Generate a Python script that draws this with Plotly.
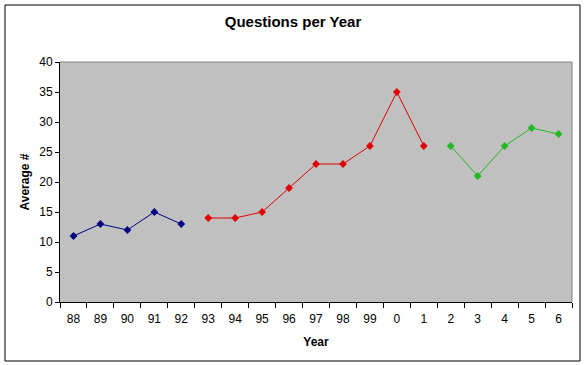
import plotly.graph_objects as go

years = ["88", "89", "90", "91", "92", "93", "94", "95", "96", "97",
         "98", "99", "0", "1", "2", "3", "4", "5", "6"]

s1_years = ["88", "89", "90", "91", "92"]
s1_vals = [11, 13, 12, 15, 13]

s2_years = ["93", "94", "95", "96", "97", "98", "99", "0", "1"]
s2_vals = [14, 14, 15, 19, 23, 23, 26, 35, 26]

s3_years = ["2", "3", "4", "5", "6"]
s3_vals = [26, 21, 26, 29, 28]

colors = ["#000080", "#E00000", "#22B822"]

fig = go.Figure()
for xs, ys, c in [(s1_years, s1_vals, colors[0]), (s2_years, s2_vals, colors[1]), (s3_years, s3_vals, colors[2])]:
    fig.add_trace(go.Scatter(
        x=xs, y=ys, mode="lines+markers",
        line=dict(color=c, width=1),
        marker=dict(symbol="diamond", size=6, color=c),
        showlegend=False, cliponaxis=False,
    ))

font = "Liberation Sans, Arial, sans-serif"
fig.update_layout(
    width=586, height=365,
    margin=dict(l=60, r=14, t=62, b=63, autoexpand=False),
    paper_bgcolor="white",
    plot_bgcolor="#C0C0C0",
    font=dict(family=font, size=12, color="black"),
    title=dict(text="<b>Questions per Year</b>", x=0.5, xanchor="center",
               y=1 - 22 / 365, yanchor="middle", font=dict(size=15)),
    xaxis=dict(type="category", categoryorder="array", categoryarray=years,
               range=[-0.5, len(years) - 0.5], automargin=False,
               showgrid=False, zeroline=False,
               ticks="outside", tickson="boundaries", ticklen=5, tickcolor="black",
               ticklabelstandoff=6,
               showline=True, linecolor="black", linewidth=1,
               title=dict(text="<b>Year</b>", font=dict(size=12), standoff=12),
               tickfont=dict(size=12)),
    yaxis=dict(range=[0, 40], dtick=5, showgrid=False, zeroline=False,
               automargin=False,
               ticks="outside", ticklen=4, tickcolor="black",
               showline=True, linecolor="black", linewidth=1,
               title=dict(text="<b>Average #</b>", font=dict(size=12), standoff=7),
               tickfont=dict(size=12)),
    shapes=[
        dict(type="line", xref="paper", yref="paper", x0=0, x1=1, y0=1, y1=1,
             line=dict(color="#808080", width=1)),
        dict(type="line", xref="paper", yref="paper", x0=1, x1=1, y0=0, y1=1,
             line=dict(color="#808080", width=1)),
        dict(type="rect", xref="paper", yref="paper",
             x0=(5 - 60) / 512, x1=(580 - 60) / 512,
             y0=(302 - 361) / 240, y1=(302 - 5) / 240,
             line=dict(color="black", width=1), layer="below"),
    ],
)

fig.write_html("out.html", config={"displayModeBar": False},
               post_script="document.body.style.margin='0';")
